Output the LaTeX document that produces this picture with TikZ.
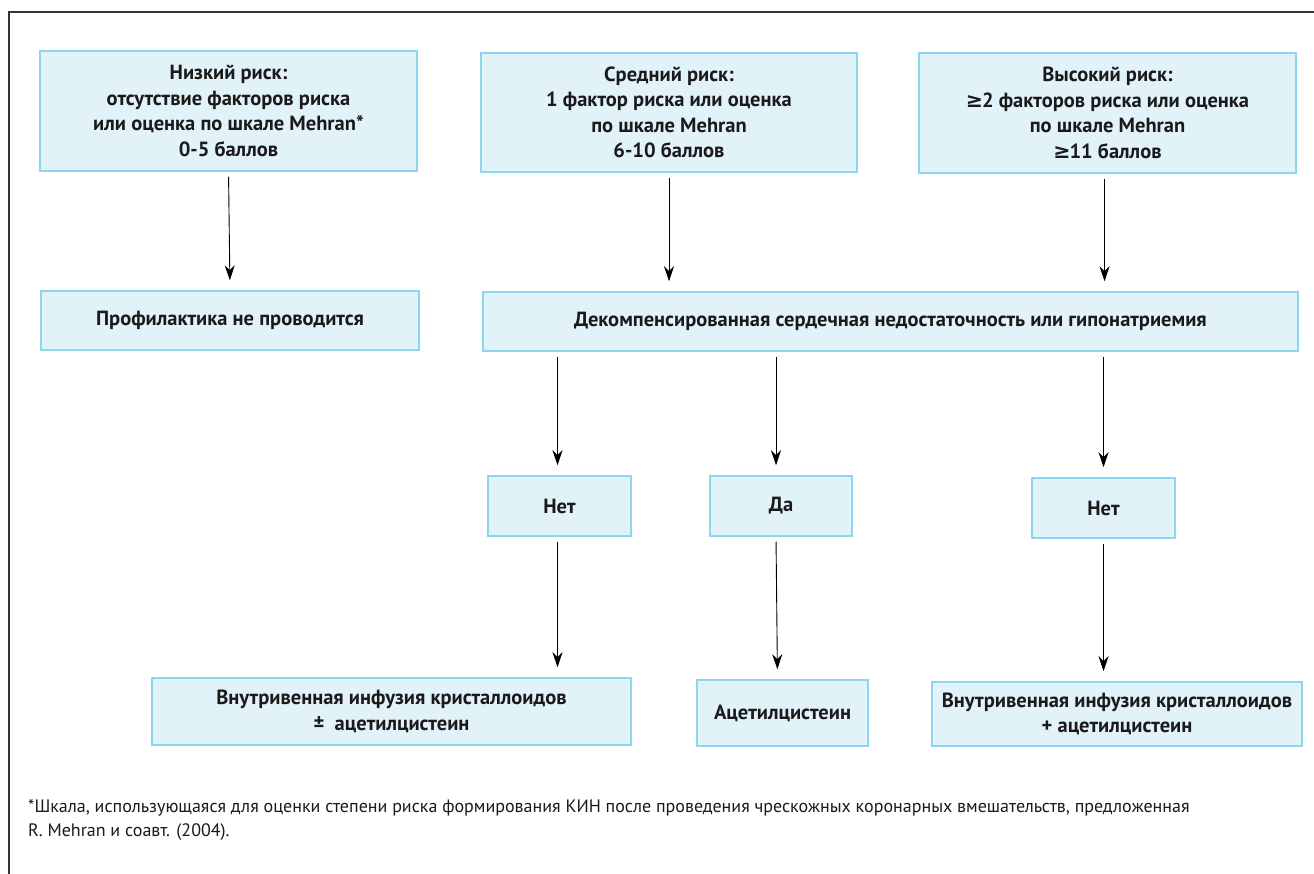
\documentclass[tikz,border=0pt]{standalone}
\usepackage{fontspec}
\setmainfont{PT Sans}
\newfontfamily\symfont{DejaVu Sans}
\newfontfamily\notefont{PT Sans}
\usetikzlibrary{arrows.meta}
\definecolor{boxfill}{HTML}{E1F2F9}
\definecolor{boxline}{HTML}{8ED6EE}
\definecolor{framegray}{HTML}{333333}
\definecolor{inkblack}{HTML}{1A1A1A}
\tikzset{
  riskbox/.style={draw=boxline, fill=boxfill, line width=1.5pt, align=center,
    text=inkblack, inner sep=0pt, font=\bfseries\fontsize{20.5}{25.5}\selectfont},
  flow/.style={-{Stealth[length=15pt,width=10pt]}, line width=0.9pt,
    shorten <=5pt, shorten >=10pt}
}
\newcommand{\gesign}{{\symfont\bfseries ≥}\kern-1pt}
\begin{document}
\begin{tikzpicture}[x=1pt,y=-1pt]
  \useasboundingbox (0,0) rectangle (1314,874);
  % outer frame
  \draw[framegray, line width=2.2pt] (9,874) -- (9,12) -- (1314,12);
  % risk groups
  \node[riskbox, minimum width=377, minimum height=120] (low) at (228.5,111)
    {Низкий риск:\\отсутствие факторов риска\\или оценка по шкале Mehran*\\0-5 баллов};
  \node[riskbox, minimum width=376, minimum height=119] (mid) at (669,112.5)
    {Средний риск:\\1 фактор риска или оценка\\по шкале Mehran\\6-10 баллов};
  \node[riskbox, minimum width=377, minimum height=120] (high) at (1107.5,113)
    {Высокий риск:\\\gesign2 факторов риска или оценка\\по шкале Mehran\\\gesign11 баллов};
  % second row
  \node[riskbox, minimum width=378, minimum height=59] (noprof) at (230,320.5)
    {Профилактика не проводится};
  \node[riskbox, minimum width=815, minimum height=59] (decomp) at (890.5,321.5)
    {Декомпенсированная сердечная недостаточность или гипонатриемия};
  % answers
  \node[riskbox, minimum width=143, minimum height=60] (noA) at (559.5,506) {Нет};
  \node[riskbox, minimum width=142, minimum height=60] (yes) at (781,506) {Да};
  \node[riskbox, minimum width=143, minimum height=60] (noB) at (1103.5,508) {Нет};
  % treatments
  \node[riskbox, minimum width=479, minimum height=67] (infA) at (391.5,711.5)
    {Внутривенная инфузия кристаллоидов\\±\ \ ацетилцистеин};
  \node[riskbox, minimum width=171, minimum height=66] (acet) at (782.5,713)
    {Ацетилцистеин};
  \node[riskbox, minimum width=370, minimum height=64] (infB) at (1117,714)
    {Внутривенная инфузия кристаллоидов\\+ ацетилцистеин};
  % arrows
  \draw[flow] (low.south) -- (noprof.north);
  \draw[flow] (mid.south) -- (mid.south |- decomp.north);
  \draw[flow] ([xshift=-3pt]high.south) -- ([xshift=-3pt]high.south |- decomp.north);
  \draw[flow] ([xshift=-2pt]noA.north |- decomp.south) -- ([xshift=-2pt]noA.north);
  \draw[flow] ([xshift=-5pt]yes.north |- decomp.south) -- ([xshift=-5pt]yes.north);
  \draw[flow] (noB.north |- decomp.south) -- (noB.north);
  \draw[flow] ([xshift=-2pt]noA.south) -- ([xshift=-2pt]noA.south |- infA.north);
  \draw[flow] ([xshift=-5pt]yes.south) -- ([xshift=-5pt]acet.north);
  \draw[flow] (noB.south) -- (noB.south |- infB.north);
  % footnote
  \node[anchor=north west, align=left, text=inkblack, inner sep=0pt,
    font=\notefont\fontsize{18}{24}\selectfont] (note) at (28,799)
    {*Шкала, использующаяся для оценки степени риска формирования КИН после проведения чрескожных коронарных вмешательств, предложенная\\R. Mehran и соавт. (2004).};
\end{tikzpicture}
\end{document}
